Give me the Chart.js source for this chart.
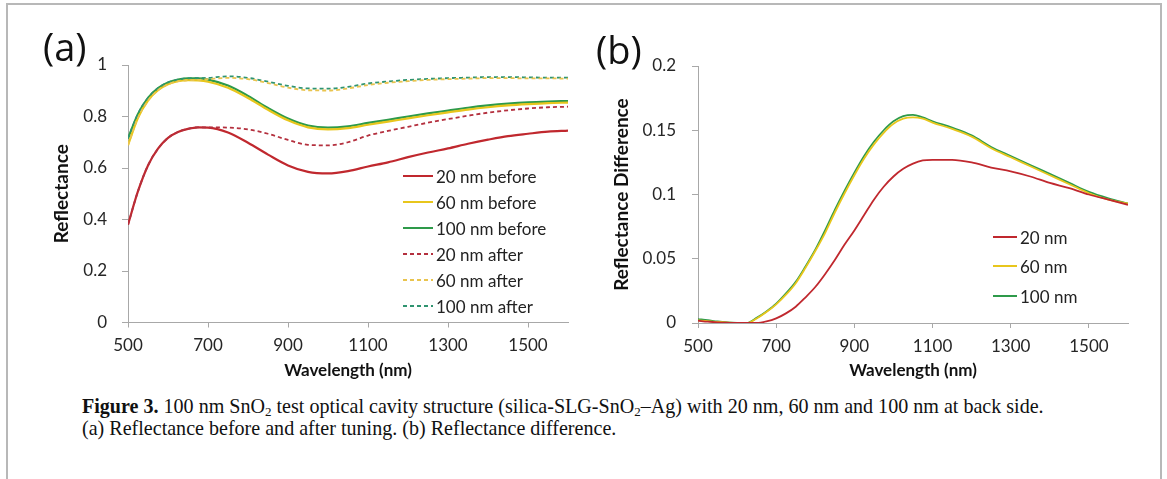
<!DOCTYPE html>
<html>
<head>
<meta charset="utf-8">
<script src="https://cdn.jsdelivr.net/npm/chart.js@4.4.0/dist/chart.umd.min.js"></script>
<style>
html,body{margin:0;padding:0;background:#fff;width:1167px;height:479px;overflow:hidden;position:relative;}
#frame{position:absolute;left:6px;top:3px;width:1156px;height:520px;border:2px solid #b8b8b8;box-sizing:border-box;}
canvas{position:absolute;top:0;}
#cA{left:0;}
#cB{left:580px;}
.plabel{position:absolute;font-family:"Open Sans",sans-serif;font-size:38px;line-height:1;color:#111;}
.legend{position:absolute;font-family:Lato,sans-serif;color:#222;}
.legend .row{position:absolute;left:0;white-space:nowrap;display:flex;align-items:center;}
.legend .sw{display:inline-block;height:2px;margin-right:3px;}
#caption{position:absolute;left:82px;top:395px;font-family:"Liberation Serif",serif;font-size:18px;line-height:22px;color:#111;white-space:nowrap;}
#caption sub{font-size:0.65em;vertical-align:-0.25em;line-height:0;}
</style>
</head>
<body>
<div id="frame"></div>
<canvas id="cA" width="580" height="390"></canvas>
<canvas id="cB" width="587" height="390"></canvas>
<div class="plabel" style="left:43px;top:27px;">(a)</div>
<div class="plabel" style="left:596px;top:30px;">(b)</div>
<div class="legend" id="legA"></div>
<div class="legend" id="legB"></div>
<div id="caption"><span id="cap1"><b>Figure 3.</b> 100 nm SnO<sub>2</sub> test optical cavity structure (silica-SLG-SnO<sub>2</sub>–Ag) with 20 nm, 60 nm and 100 nm at back side.</span><br><span id="cap2">(a) Reflectance before and after tuning. (b) Reflectance difference.</span></div>
<script>
// ---------- Panel (a) data ----------
const wavelengthA = [500,525,550,575,600,625,650,675,700,750,800,850,900,950,1000,1050,1100,1150,1200,1250,1300,1350,1400,1450,1500,1550,1600];
const r20Before  = [0.380,0.510,0.610,0.675,0.717,0.740,0.752,0.758,0.757,0.738,0.698,0.652,0.610,0.585,0.579,0.588,0.606,0.622,0.642,0.660,0.676,0.694,0.710,0.724,0.733,0.741,0.745];
const r60Before  = [0.689,0.795,0.862,0.902,0.925,0.937,0.941,0.940,0.935,0.912,0.872,0.826,0.785,0.758,0.750,0.755,0.768,0.780,0.793,0.805,0.816,0.827,0.836,0.843,0.848,0.852,0.854];
const r100Before = [0.715,0.810,0.872,0.910,0.932,0.943,0.948,0.948,0.943,0.920,0.880,0.833,0.792,0.765,0.757,0.762,0.775,0.787,0.800,0.812,0.823,0.834,0.843,0.850,0.855,0.858,0.860];
const r20After   = [0.380,0.510,0.610,0.675,0.717,0.740,0.752,0.758,0.758,0.757,0.750,0.733,0.709,0.690,0.688,0.700,0.726,0.744,0.760,0.776,0.790,0.803,0.815,0.824,0.831,0.836,0.838];
const r60After   = [0.689,0.795,0.862,0.902,0.925,0.937,0.941,0.942,0.945,0.950,0.945,0.930,0.912,0.902,0.901,0.909,0.922,0.931,0.937,0.942,0.945,0.947,0.949,0.949,0.948,0.948,0.947];
const r100After  = [0.715,0.810,0.872,0.910,0.932,0.943,0.948,0.949,0.950,0.956,0.950,0.935,0.919,0.909,0.908,0.915,0.928,0.936,0.942,0.946,0.949,0.951,0.953,0.953,0.952,0.951,0.951];
const labelsA = ['20 nm before','60 nm before','100 nm before','20 nm after','60 nm after','100 nm after'];

// ---------- Panel (b) data ----------
const wavelengthB = [500,525,550,575,600,625,650,675,700,725,750,775,800,825,850,875,900,925,950,975,1000,1025,1050,1075,1100,1150,1200,1250,1300,1350,1400,1450,1500,1550,1600];
const d20  = [0.0018,0.0010,0.0005,0.0002,0,0,0,0.0012,0.0036,0.0075,0.0127,0.020,0.028,0.038,0.049,0.061,0.072,0.084,0.096,0.106,0.114,0.120,0.124,0.1265,0.127,0.127,0.125,0.121,0.118,0.114,0.109,0.105,0.100,0.096,0.092];
const d60  = [0.0020,0.0015,0.0008,0.0003,0,0,0.0035,0.0085,0.0145,0.022,0.031,0.043,0.056,0.070,0.086,0.101,0.115,0.128,0.139,0.148,0.155,0.159,0.160,0.159,0.156,0.151,0.145,0.136,0.129,0.122,0.115,0.108,0.101,0.096,0.093];
const d100 = [0.0030,0.0022,0.0012,0.0005,0.0001,0,0.0040,0.0090,0.015,0.023,0.032,0.044,0.057,0.072,0.088,0.103,0.117,0.130,0.141,0.150,0.157,0.161,0.162,0.160,0.157,0.152,0.146,0.137,0.130,0.123,0.116,0.109,0.102,0.097,0.093];
const labelsB = ['20 nm','60 nm','100 nm'];

// ---------- Ticks ----------
const xTicks = [500,700,900,1100,1300,1500];
const xTickLabels = ['500','700','900','1100','1300','1500'];
const yTicksA = [0,0.2,0.4,0.6,0.8,1];
const yTickLabelsA = ['0','0.2','0.4','0.6','0.8','1'];
const yTicksB = [0,0.05,0.1,0.15,0.2];
const yTickLabelsB = ['0','0.05','0.1','0.15','0.2'];

const RED='#c0282e', YEL='#e8c61c', GRN='#2e9a4a';
const RED_D='#b4303e', YEL_D='#e9c44e', GRN_D='#2f9470';
const AXIS='#a8a8a8';
const FONT='Lato, "Open Sans", sans-serif';

function pts(xs, ys){ return xs.map((x,i)=>({x:x,y:ys[i]})); }

function scaleOpts(cfg){
  return {
    x:{type:'linear',min:cfg.xmin,max:cfg.xmax,
      afterBuildTicks:s=>{s.ticks=xTicks.map(v=>({value:v}));},
      afterFit:s=>{s.height=cfg.xh;},
      grid:{display:true,drawOnChartArea:false,drawTicks:true,tickLength:5,color:AXIS,lineWidth:1},
      border:{display:true,color:AXIS,width:1},
      ticks:{autoSkip:false,maxRotation:0,padding:8,color:'#262626',font:{family:FONT,size:17},
        callback:(v,i)=>xTickLabels[i]},
      title:{display:true,text:'Wavelength (nm)',color:'#111',font:{family:FONT,size:17,weight:'bold'},padding:{top:0,bottom:9}}
    },
    y:{type:'linear',min:cfg.ymin,max:cfg.ymax,
      afterBuildTicks:s=>{s.ticks=cfg.yt.map(v=>({value:v}));},
      afterFit:s=>{s.width=cfg.yw;},
      grid:{display:true,drawOnChartArea:false,drawTicks:true,tickLength:6,color:AXIS,lineWidth:1},
      border:{display:true,color:AXIS,width:1},
      ticks:{autoSkip:false,padding:cfg.ypad,color:'#262626',font:{family:FONT,size:17},
        callback:(v,i)=>cfg.ytl[i]},
      title:{display:true,text:cfg.ytitle,color:'#111',font:{family:FONT,size:19,weight:'bold'},padding:{top:cfg.ytp,bottom:0}}
    }
  };
}

function ds(label, xs, ys, color, dashed, w){
  return {label:label,data:pts(xs,ys),borderColor:color,backgroundColor:color,borderWidth:w||2,
    borderDash:dashed?[4,3]:[],pointRadius:0,pointHoverRadius:0,fill:false,cubicInterpolationMode:'monotone'};
}

const common = {responsive:false,animation:false,devicePixelRatio:1,
  plugins:{legend:{display:false},tooltip:{enabled:false},title:{display:false}},
  events:[]};

const chartA = new Chart(document.getElementById('cA'),{
  type:'line',
  data:{datasets:[
    ds(labelsA[3],wavelengthA,r20After,RED_D,true,1.8),
    ds(labelsA[4],wavelengthA,r60After,YEL_D,true,1.8),
    ds(labelsA[5],wavelengthA,r100After,GRN_D,true,1.8),
    ds(labelsA[0],wavelengthA,r20Before,RED,false,2.2),
    ds(labelsA[1],wavelengthA,r60Before,YEL,false,2.2),
    ds(labelsA[2],wavelengthA,r100Before,GRN,false,2.2)
  ]},
  options:Object.assign({},common,{
    layout:{padding:{top:65,right:12,left:0,bottom:0}},
    scales:scaleOpts({xmin:500,xmax:1600,xh:67.5,ymin:0,ymax:1,yt:yTicksA,ytl:yTickLabelsA,yw:128,ypad:15,ytitle:'Reflectance',ytp:50.5})
  })
});

const chartB = new Chart(document.getElementById('cB'),{
  type:'line',
  data:{datasets:[
    ds(labelsB[0],wavelengthB,d20,RED,false,1.8),
    ds(labelsB[1],wavelengthB,d60,YEL,false,1.8),
    ds(labelsB[2],wavelengthB,d100,GRN,false,1.8)
  ]},
  options:Object.assign({},common,{
    layout:{padding:{top:66,right:39,left:0,bottom:0}},
    scales:scaleOpts({xmin:500,xmax:1600,xh:67,ymin:0,ymax:0.2,yt:yTicksB,ytl:yTickLabelsB,yw:118,ypad:16,ytitle:'Reflectance Difference',ytp:30.5})
  })
});

// ---------- HTML legends built from the chart datasets ----------
function buildLegend(el, chart, order, left, top0, step, lineW, fontSize){
  el.style.left=left+'px'; el.style.top='0px';
  order.forEach((idx,k)=>{
    const d=chart.data.datasets[idx];
    const row=document.createElement('div'); row.className='row';
    row.style.top=(top0+k*step-fontSize*0.6)+'px'; row.style.height=(fontSize*1.2)+'px'; row.style.fontSize=fontSize+'px';
    const sw=document.createElement('span'); sw.className='sw'; sw.style.width=lineW+'px';
    if(d.borderDash && d.borderDash.length){
      sw.style.background='repeating-linear-gradient(to right,'+d.borderColor+' 0 4px,transparent 4px 7px)';
    } else sw.style.background=d.borderColor;
    const tx=document.createElement('span'); tx.textContent=d.label;
    row.appendChild(sw); row.appendChild(tx); el.appendChild(row);
  });
}
buildLegend(document.getElementById('legA'),chartA,[3,4,5,0,1,2],403,176,26,30,17);
buildLegend(document.getElementById('legB'),chartB,[0,1,2],993,237,29.5,24,17);

// fit caption line 1 to the reference width
(function(){
  const c1=document.getElementById('cap1');
  const w=c1.getBoundingClientRect().width;
  const target=962;
  const cap=document.getElementById('caption');
  cap.style.fontSize=(18*target/w).toFixed(2)+'px';
})();
</script>
</body>
</html>
